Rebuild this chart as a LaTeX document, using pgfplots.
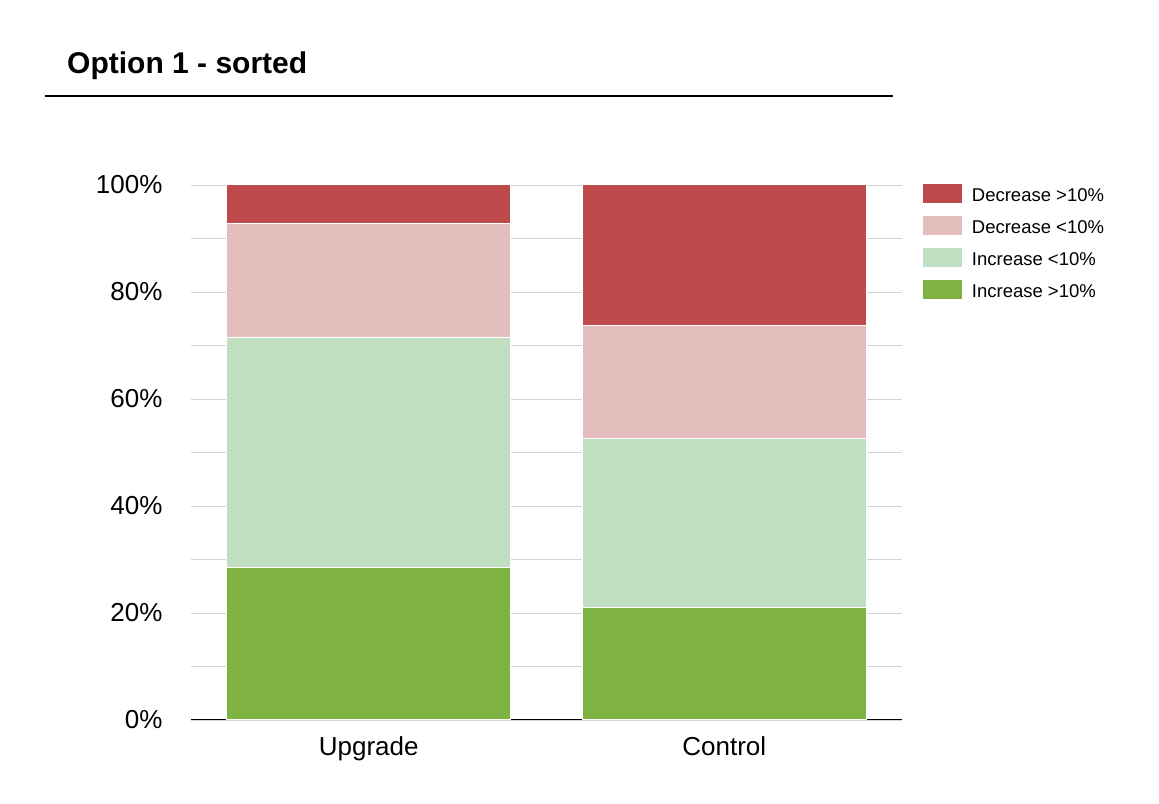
\documentclass[border=0pt]{standalone}
\usepackage{pgfplots}
\pgfplotsset{compat=1.18}
\usepackage{fontspec}
\setmainfont{Liberation Sans}
\definecolor{decHigh}{RGB}{191,74,75}
\definecolor{decLow}{RGB}{228,189,189}
\definecolor{incLow}{RGB}{193,223,192}
\definecolor{incHigh}{RGB}{126,179,67}
\definecolor{gridc}{RGB}{210,210,210}
\begin{document}
\begin{tikzpicture}[x=1bp,y=1bp]
\useasboundingbox (0,0) rectangle (1159,804);
\node[anchor=base west, inner sep=0pt, font=\fontsize{30bp}{36bp}\selectfont\bfseries] at (67,730) {Option 1 - sorted};
\draw[line width=2bp] (45,708) -- (893,708);
\begin{axis}[
  at={(191bp,84bp)}, anchor=south west,
  width=711bp, height=535bp, scale only axis,
  ybar stacked, bar width=284bp,
  xmin=-0.5, xmax=1.5, ymin=0, ymax=100,
  xtick={0,1}, xticklabels={Upgrade,Control},
  ytick={0,20,...,100}, yticklabels={0\%,20\%,40\%,60\%,80\%,100\%},
  minor ytick={10,30,...,90},
  ymajorgrids, yminorgrids,
  major grid style={gridc, line width=0.8bp},
  minor grid style={gridc, line width=0.8bp},
  major tick length=0pt, minor tick length=0pt,
  axis lines*=left,
  x axis line style={black, line width=1bp, -},
  y axis line style={draw=none},
  tick label style={font=\fontsize{26bp}{30bp}\selectfont},
  yticklabel style={xshift=-25bp},
  xticklabel style={yshift=-13bp},
  legend style={at={(1.028,1.003)}, anchor=north west, draw=none, fill=none,
    inner sep=0pt, outer sep=0pt, row sep=11bp, column sep=9bp,
    font=\fontsize{18.5bp}{21bp}\selectfont,
    nodes={inner sep=0pt}},
  legend cell align=left,
  reverse legend,
  legend image code/.code={\fill[#1] (0bp,-8.5bp) rectangle (40bp,11.5bp);},
]
\addplot[fill=incHigh, draw=white, line width=1bp] coordinates {(0,28.57) (1,21.05)};
\addplot[fill=incLow, draw=white, line width=1bp] coordinates {(0,42.86) (1,31.58)};
\addplot[fill=decLow, draw=white, line width=1bp] coordinates {(0,21.43) (1,21.05)};
\addplot[fill=decHigh, draw=white, line width=1bp] coordinates {(0,7.14) (1,26.32)};
\legend{Increase >10\%, Increase <10\%, Decrease <10\%, Decrease >10\%}
\end{axis}
\end{tikzpicture}
\end{document}
